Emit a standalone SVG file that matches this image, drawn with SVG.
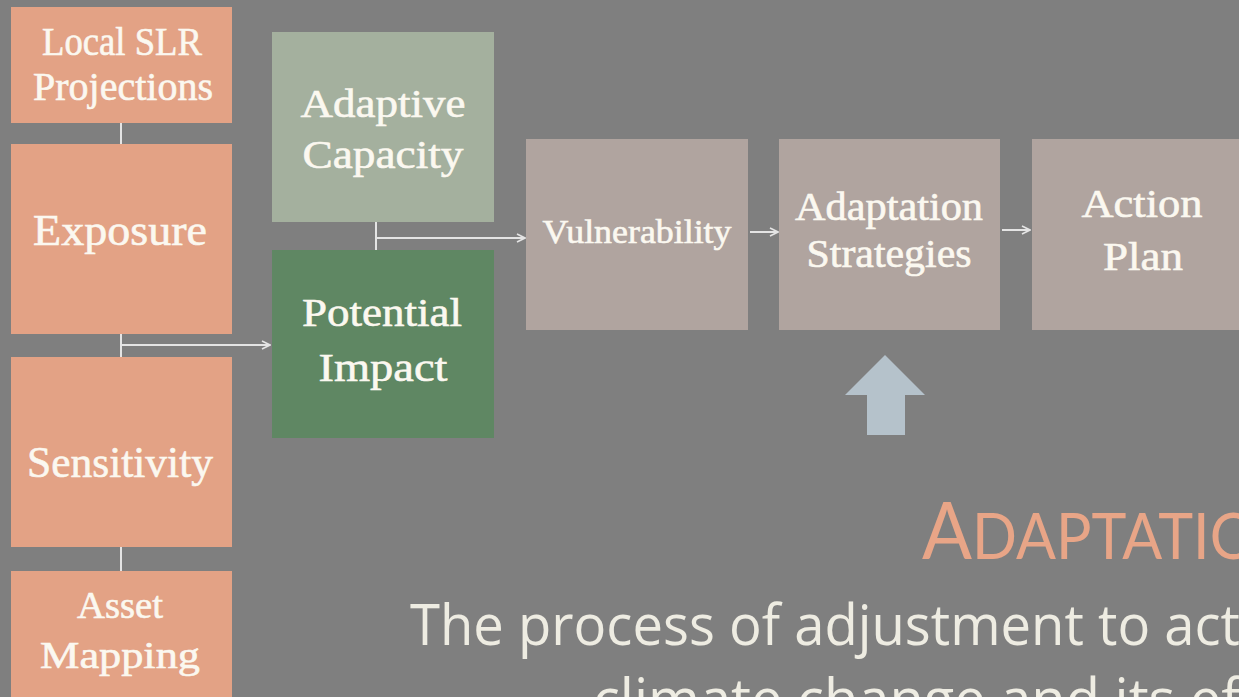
<svg xmlns="http://www.w3.org/2000/svg" width="1239" height="697" viewBox="0 0 1239 697">
<style>
.bg{fill:#7f7f7f}
.salmon{fill:#e3a285}
.cap{fill:#a4b09e}
.imp{fill:#5f8763}
.mauve{fill:#b0a49f}
.t{font-family:"Liberation Serif",serif;fill:#fbf8f0;stroke:#fbf8f0;stroke-width:0.6;text-anchor:middle}
.con{stroke:#e4e4e4;stroke-width:2;fill:none}
.arr{marker-end:url(#ah)}
.title{font-family:Lato,"Open Sans",sans-serif;font-weight:400;fill:#e8a587}
.body{font-family:"Open Sans",Lato,sans-serif;font-weight:400;fill:#eeece2}
</style>
<defs>
<marker id="ah" viewBox="0 0 10 10" refX="9" refY="5" markerWidth="10" markerHeight="10" markerUnits="userSpaceOnUse" orient="auto">
<path d="M1,1 L9,5 L1,9" fill="none" stroke="#e4e4e4" stroke-width="1.6"/>
</marker>
</defs>
<rect class="bg" x="0" y="0" width="1239" height="697"/>

<g id="connectors">
<line class="con" x1="121" y1="123" x2="121" y2="144"/>
<line class="con" x1="121" y1="334" x2="121" y2="357"/>
<polyline class="con arr" points="121,345 270,345"/>
<line class="con" x1="121" y1="547" x2="121" y2="571"/>
<line class="con" x1="376" y1="222" x2="376" y2="250"/>
<polyline class="con arr" points="376,238 525,238"/>
<polyline class="con arr" points="750,232 778,232"/>
<polyline class="con arr" points="1002,230 1030,230"/>
</g>

<g id="local-slr">
<rect class="salmon" x="11" y="7" width="221" height="116"/>
<text class="t" font-size="41" x="122" y="55" textLength="160" lengthAdjust="spacingAndGlyphs">Local SLR</text>
<text class="t" font-size="41" x="123" y="100" textLength="180" lengthAdjust="spacingAndGlyphs">Projections</text>
</g>
<g id="exposure">
<rect class="salmon" x="11" y="144" width="221" height="190"/>
<text class="t" font-size="44" x="120" y="245" textLength="174" lengthAdjust="spacingAndGlyphs">Exposure</text>
</g>
<g id="sensitivity">
<rect class="salmon" x="11" y="357" width="221" height="190"/>
<text class="t" font-size="44" x="120" y="477" textLength="186" lengthAdjust="spacingAndGlyphs">Sensitivity</text>
</g>
<g id="asset-mapping">
<rect class="salmon" x="11" y="571" width="221" height="140"/>
<text class="t" font-size="38" x="120" y="618" textLength="86" lengthAdjust="spacingAndGlyphs">Asset</text>
<text class="t" font-size="38" x="120" y="668" textLength="160" lengthAdjust="spacingAndGlyphs">Mapping</text>
</g>
<g id="adaptive-capacity">
<rect class="cap" x="272" y="32" width="222" height="190"/>
<text class="t" font-size="41" x="383" y="117" textLength="165" lengthAdjust="spacingAndGlyphs">Adaptive</text>
<text class="t" font-size="41" x="383" y="168" textLength="161" lengthAdjust="spacingAndGlyphs">Capacity</text>
</g>
<g id="potential-impact">
<rect class="imp" x="272" y="250" width="222" height="188"/>
<text class="t" font-size="41" x="382" y="326" textLength="160" lengthAdjust="spacingAndGlyphs">Potential</text>
<text class="t" font-size="41" x="383" y="381" textLength="129" lengthAdjust="spacingAndGlyphs">Impact</text>
</g>
<g id="vulnerability">
<rect class="mauve" x="526" y="139" width="222" height="191"/>
<text class="t" font-size="34" x="637" y="243" textLength="189" lengthAdjust="spacingAndGlyphs">Vulnerability</text>
</g>
<g id="adaptation-strategies">
<rect class="mauve" x="779" y="139" width="221" height="191"/>
<text class="t" font-size="39" x="889" y="220" textLength="188" lengthAdjust="spacingAndGlyphs">Adaptation</text>
<text class="t" font-size="39" x="889" y="267" textLength="165" lengthAdjust="spacingAndGlyphs">Strategies</text>
</g>
<g id="action-plan">
<rect class="mauve" x="1032" y="139" width="220" height="191"/>
<text class="t" font-size="41" x="1142" y="217" textLength="121" lengthAdjust="spacingAndGlyphs">Action</text>
<text class="t" font-size="41" x="1143" y="270" textLength="80" lengthAdjust="spacingAndGlyphs">Plan</text>
</g>

<polygon id="up-arrow" fill="#b5c2cb" points="885,355 925,395 905,395 905,435 867,435 867,395 845,395"/>

<text class="title" x="922" y="559" font-size="80" textLength="335" lengthAdjust="spacingAndGlyphs">A<tspan font-size="64">DAPTATIO</tspan></text>
<text class="body" x="410" y="645" font-size="56" textLength="830" lengthAdjust="spacingAndGlyphs">The process of adjustment to act</text>
<text class="body" x="593" y="719" font-size="56" textLength="666" lengthAdjust="spacingAndGlyphs">climate change and its eff</text>
</svg>
